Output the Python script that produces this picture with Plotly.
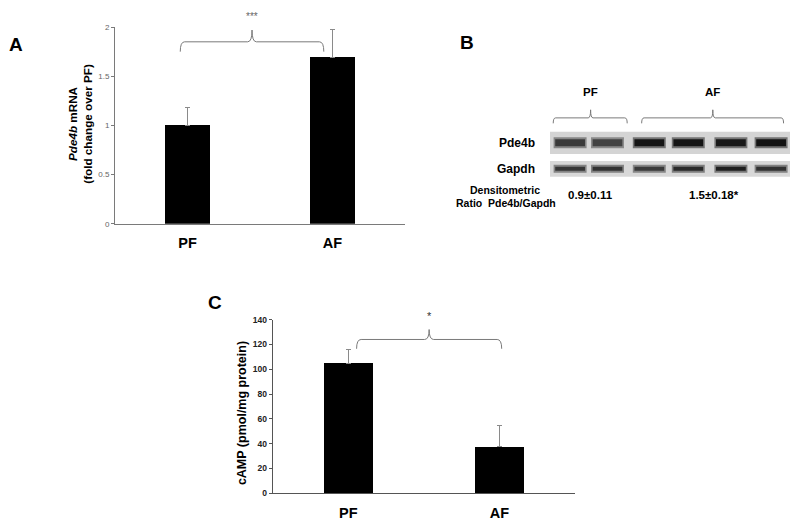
import plotly.graph_objects as go

W, H = 800, 528

# ---------------- data ----------------
groups = ["PF", "AF"]
mrna_mean = [1.00, 1.69]
mrna_err = [0.18, 0.29]
mrna_ticks = [0, 0.5, 1, 1.5, 2]
mrna_ticklabels = ["0", "0.5", "1", "1.5", "2"]

camp_mean = [105.0, 37.5]
camp_err = [11.0, 17.5]
camp_ticks = [0, 20, 40, 60, 80, 100, 120, 140]

blot_lanes = [1, 1.93, 2.97, 3.94, 5.0, 6.0]
blot_lane_group = ["PF", "PF", "AF", "AF", "AF", "AF"]
pde4b_intensity = [0.78, 0.74, 0.97, 0.97, 0.95, 0.98]
gapdh_intensity = [0.80, 0.82, 0.78, 0.86, 0.92, 0.82]
blot_rows = ["Pde4b", "Gapdh"]
ratio_text = ["0.9±0.11", "1.5±0.18*"]

FONT = "Liberation Sans, Arial, sans-serif"


def px_x(p):
    return p / W


def px_y(p):
    return 1 - p / H


fig = go.Figure()

# ---------------- Panel A ----------------
fig.add_trace(go.Bar(
    x=[0, 1], y=mrna_mean, width=0.31, marker=dict(color="black", line=dict(width=0)),
    error_y=dict(type="data", symmetric=False, array=mrna_err, arrayminus=[0, 0],
                 color="#8a8a8a", thickness=1, width=2.5),
    xaxis="x", yaxis="y", showlegend=False))

# ---------------- Panel C ----------------
fig.add_trace(go.Bar(
    x=[0, 1], y=camp_mean, width=0.325, marker=dict(color="black", line=dict(width=0)),
    error_y=dict(type="data", symmetric=False, array=camp_err, arrayminus=[0, 0],
                 color="#8a8a8a", thickness=1, width=2.5),
    xaxis="x2", yaxis="y2", showlegend=False))


# ---------------- Panel B: blot ----------------
def gray(intensity, alpha=1.0):
    v = int(round(210 - intensity * 195))
    return f"rgba({v},{v},{v},{alpha})"


shapes = []
# strips
shapes.append(dict(type="rect", xref="x3", yref="y3", x0=0.5, x1=6.47, y0=-0.43, y1=0.43,
                   fillcolor="#d4d4d4", line=dict(width=0), layer="below"))
shapes.append(dict(type="rect", xref="x3", yref="y3", x0=0.5, x1=6.47, y0=0.70, y1=1.30,
                   fillcolor="#d8d8d8", line=dict(width=0), layer="below"))

for row_idx, (vals, thick) in enumerate([(pde4b_intensity, 7.0), (gapdh_intensity, 4.0)]):
    for lane, inten in zip(blot_lanes, vals):
        half = 0.41
        # soft halo
        fig.add_trace(go.Scatter(
            x=[lane - half, lane + half], y=[row_idx, row_idx], mode="lines",
            line=dict(color=gray(inten * 0.5), width=thick + 4), xaxis="x3", yaxis="y3",
            showlegend=False, hoverinfo="skip"))
        # core
        fig.add_trace(go.Scatter(
            x=[lane - half + 0.04, lane + half - 0.04], y=[row_idx, row_idx], mode="lines",
            line=dict(color=gray(inten), width=thick), xaxis="x3", yaxis="y3",
            showlegend=False, hoverinfo="skip"))


def brace(x0, x1, xc, yline, ytip, ytop, dx, xref, yref):
    path = (f"M {x0},{ytip} Q {x0},{yline} {x0+dx},{yline} "
            f"L {xc-dx},{yline} Q {xc},{yline} {xc},{ytop} "
            f"Q {xc},{yline} {xc+dx},{yline} "
            f"L {x1-dx},{yline} Q {x1},{yline} {x1},{ytip}")
    return dict(type="path", path=path, xref=xref, yref=yref,
                line=dict(color="#7a7a7a", width=1))


# A bracket
shapes.append(brace(-0.05, 0.94, 0.445, 1.85, 1.75, 1.97, 0.03, "x", "y"))
# C bracket
shapes.append(brace(0.055, 1.015, 0.535, 124, 116.5, 132, 0.03, "x2", "y2"))
# B brackets (y3 reversed units)
shapes.append(brace(0.58, 2.42, 1.51, -0.96, -0.75, -1.27, 0.06, "x3", "y3"))
shapes.append(brace(2.78, 6.31, 4.55, -0.96, -0.75, -1.27, 0.06, "x3", "y3"))

annotations = []


def ann(text, x, y, size, xref="paper", yref="paper", bold=True, color="black",
        xanchor="center", yanchor="middle", angle=0):
    annotations.append(dict(
        text=text, x=x, y=y, xref=xref, yref=yref, showarrow=False,
        xanchor=xanchor, yanchor=yanchor, textangle=angle,
        font=dict(family=FONT, size=size, color=color, weight="bold" if bold else "normal")))


# panel letters
ann("A", px_x(16), px_y(40), 19)
ann("B", px_x(467), px_y(38), 19)
ann("C", px_x(215), px_y(303), 19)

# significance
ann("***", 0.445, px_y(12), 10, xref="x", bold=False, color="#666")
ann("*", 0.535, px_y(317), 11, xref="x2", bold=False, color="#333")

# y titles
ann("<i>Pde4b</i> mRNA<br>(fold change over PF)", px_x(80), px_y(121), 11.7, angle=-90)
ann("cAMP (pmol/mg protein)", px_x(242), px_y(416), 12.5, angle=-90)

# blot labels
ann("PF", 1.51, px_y(89), 11.5, xref="x3")
ann("AF", 4.55, px_y(89), 11.5, xref="x3")
for r, name in enumerate(blot_rows):
    ann(name, px_x(537), r, 12, yref="y3", xanchor="right")
ann("Densitometric", px_x(505), px_y(189), 10.5)
ann("Ratio  Pde4b/Gapdh", px_x(506), px_y(202), 10.5)
ann(ratio_text[0], 1.5, px_y(194), 11.5, xref="x3")
ann(ratio_text[1], 4.57, px_y(194), 11.5, xref="x3")

fig.update_layout(
    width=W, height=H, margin=dict(l=0, r=0, t=0, b=0),
    paper_bgcolor="white", plot_bgcolor="white",
    font=dict(family=FONT),
    shapes=shapes, annotations=annotations, bargap=0,
    xaxis=dict(domain=[px_x(115), px_x(405)], range=[-0.5, 1.5],
               tickvals=[0, 1], ticktext=groups, ticks="", showgrid=False, zeroline=False,
               showline=True, linecolor="#7a7a7a", linewidth=1,
               tickfont=dict(family=FONT, size=14.5, color="black", weight="bold"),
               ticklabelstandoff=6, anchor="y", fixedrange=True),
    yaxis=dict(domain=[px_y(223), px_y(22.5)], range=[0, 2],
               tickvals=mrna_ticks, ticktext=mrna_ticklabels, ticks="outside", ticklen=3,
               tickcolor="#7a7a7a", showgrid=False, zeroline=False,
               showline=True, linecolor="#7a7a7a", linewidth=1,
               tickfont=dict(family=FONT, size=8, color="#666"), anchor="x"),
    xaxis2=dict(domain=[px_x(272.7), px_x(575)], range=[-0.5, 1.5],
                tickvals=[0, 1], ticktext=groups, ticks="", showgrid=False, zeroline=False,
                showline=True, linecolor="#555", linewidth=1,
                tickfont=dict(family=FONT, size=14.5, color="black", weight="bold"),
                ticklabelstandoff=6, anchor="y2"),
    yaxis2=dict(domain=[px_y(497.7), px_y(320.7)], range=[0, 140],
                tickvals=camp_ticks, ticks="outside", ticklen=3, tickcolor="#555",
                showgrid=False, zeroline=False,
                showline=True, linecolor="#555", linewidth=1,
                tickfont=dict(family=FONT, size=8.5, color="#222", weight="bold"), anchor="x2"),
    xaxis3=dict(domain=[px_x(550), px_x(790)], range=[0.5, 6.47], visible=False, anchor="y3"),
    yaxis3=dict(domain=[px_y(178), px_y(100)], range=[1.415, -1.528], visible=False, anchor="x3"),
)

fig.write_html("out.html", config={"displayModeBar": False},
               post_script="document.body.style.margin='0';document.body.style.overflow='hidden';")
